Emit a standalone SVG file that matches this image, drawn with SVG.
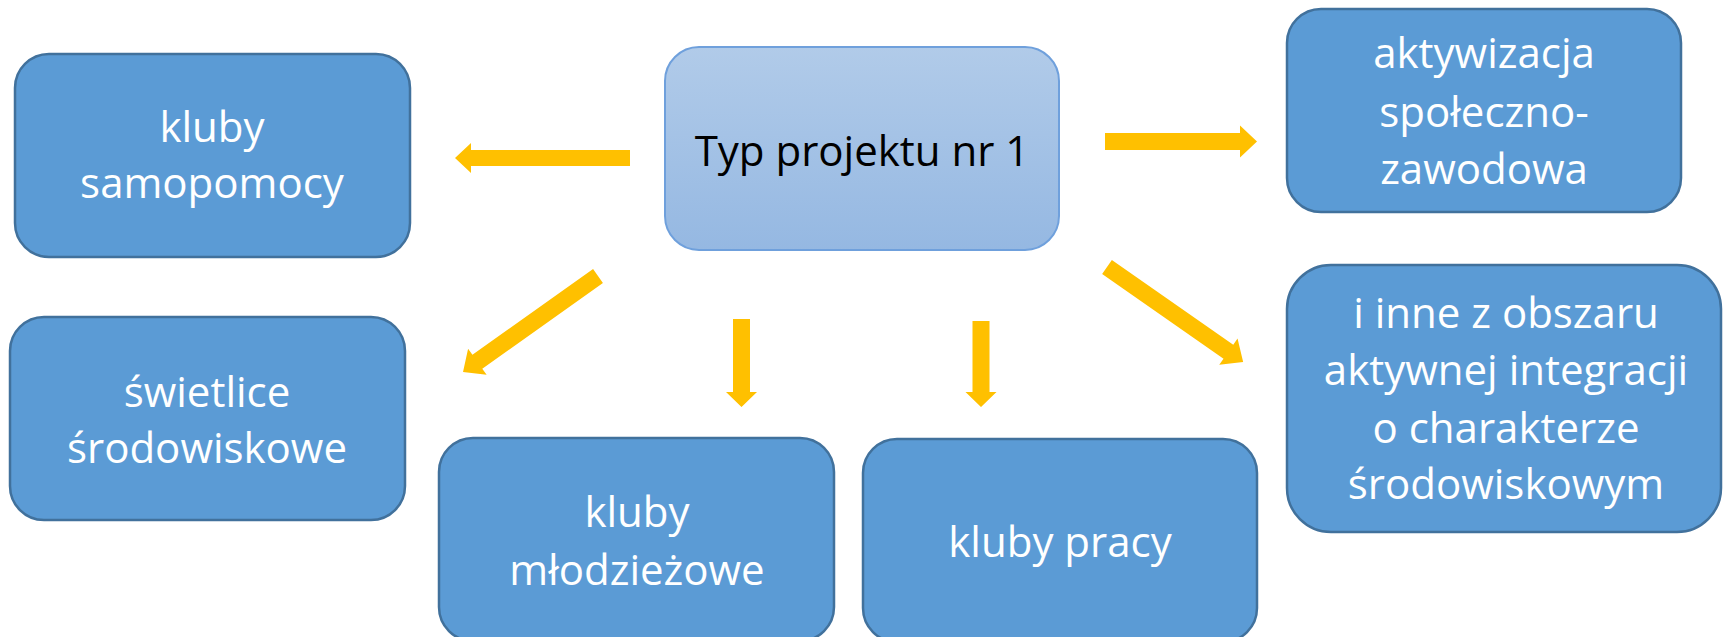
<svg xmlns="http://www.w3.org/2000/svg" width="1723" height="637" viewBox="0 0 1723 637">
  <defs>
    <linearGradient id="gCenter" x1="0" y1="0" x2="0" y2="1">
      <stop offset="0" stop-color="#B1CBE9"/>
      <stop offset="1" stop-color="#95B8E2"/>
    </linearGradient>
    <style>
      .box { fill: #5B9BD5; stroke: #41719C; stroke-width: 2.5; }
      .center { fill: url(#gCenter); stroke: #6FA0DC; stroke-width: 2; }
      .t { font-family: "Open Sans", "Noto Sans", sans-serif; font-size: 42px; text-anchor: middle; fill: #FFFFFF; }
      .tc { fill: #000000; }
      .arrow { fill: #FFC000; }
    </style>
  </defs>
  <rect width="1723" height="637" fill="#FFFFFF"/>

  <g id="connectors">
    <path class="arrow" transform="translate(630,158) rotate(180)" d="M0,-8 H159 V-15 L175,0 L159,15 V8 H0 Z"/>
    <path class="arrow" transform="translate(1105,141.5) rotate(0)" d="M0,-8.5 H135 V-16 L152,0 L135,16 V8.5 H0 Z"/>
    <path class="arrow" transform="translate(741.5,319) rotate(90)" d="M0,-8.5 H73 V-15.5 L88,0 L73,15.5 V8.5 H0 Z"/>
    <path class="arrow" transform="translate(981,321) rotate(90)" d="M0,-8.5 H71 V-15.5 L86,0 L71,15.5 V8.5 H0 Z"/>
    <path class="arrow" transform="translate(598,276) rotate(144.6)" d="M0,-8.5 H148 V-16 L165.6,0 L148,16 V8.5 H0 Z"/>
    <path class="arrow" transform="translate(1107,267) rotate(34.9)" d="M0,-8.5 H148 V-16 L166,0 L148,16 V8.5 H0 Z"/>
  </g>

  <g id="node-center">
    <rect class="center" x="665" y="47" width="394" height="203" rx="34" ry="34"/>
    <text class="t tc" x="862" y="166">Typ projektu nr 1</text>
  </g>

  <g id="node-samopomocy">
    <rect class="box" x="15" y="54" width="395" height="203" rx="34" ry="34"/>
    <text class="t" x="212" y="142">kluby</text>
    <text class="t" x="212" y="198">samopomocy</text>
  </g>

  <g id="node-aktywizacja">
    <rect class="box" x="1287" y="9" width="394" height="203" rx="34" ry="34"/>
    <text class="t" x="1484" y="68">aktywizacja</text>
    <text class="t" x="1484" y="127">społeczno-</text>
    <text class="t" x="1484" y="184">zawodowa</text>
  </g>

  <g id="node-inne">
    <rect class="box" x="1287" y="265" width="434" height="267" rx="44" ry="44"/>
    <text class="t" x="1506" y="328">i inne z obszaru</text>
    <text class="t" x="1506" y="385">aktywnej integracji</text>
    <text class="t" x="1506" y="443">o charakterze</text>
    <text class="t" x="1506" y="499">środowiskowym</text>
  </g>

  <g id="node-swietlice">
    <rect class="box" x="10" y="317" width="395" height="203" rx="34" ry="34"/>
    <text class="t" x="207" y="407">świetlice</text>
    <text class="t" x="207" y="463">środowiskowe</text>
  </g>

  <g id="node-mlodziezowe">
    <rect class="box" x="439" y="438" width="395" height="203" rx="34" ry="34"/>
    <text class="t" x="637" y="527">kluby</text>
    <text class="t" x="637" y="585">młodzieżowe</text>
  </g>

  <g id="node-pracy">
    <rect class="box" x="863" y="439" width="394" height="203" rx="34" ry="34"/>
    <text class="t" x="1060" y="557">kluby pracy</text>
  </g>
</svg>
